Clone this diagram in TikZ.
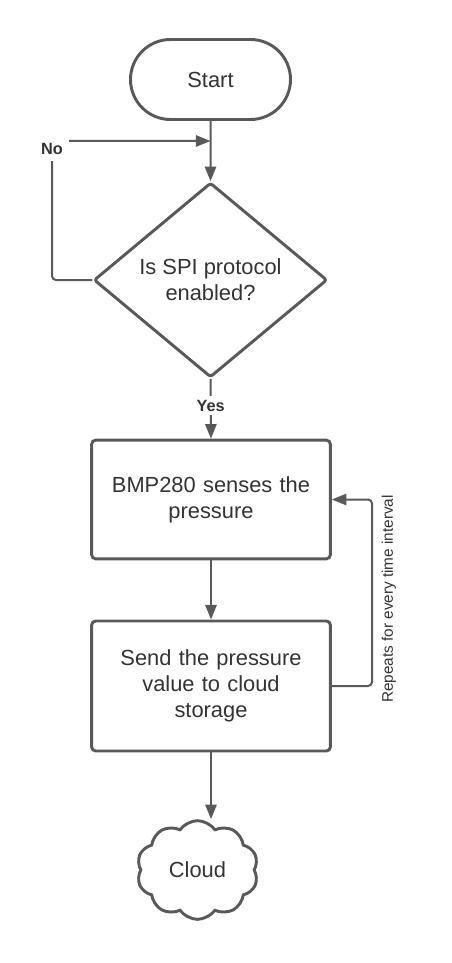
\documentclass[tikz,border=0pt]{standalone}
\usepackage{fontspec}
\setmainfont{Liberation Sans}
\usetikzlibrary{arrows.meta,shapes.geometric,shapes.misc,shapes.symbols}

\definecolor{lineGray}{RGB}{89,89,89}
\definecolor{textGray}{RGB}{51,51,51}

\tikzset{every picture/.style={line width=0.75pt}}

\begin{document}
\begin{tikzpicture}[x=0.75pt,y=0.75pt,yscale=-1,
	shapebox/.style={draw=lineGray,line width=2.2pt,text=textGray,align=center,inner sep=0pt,
		font=\fontsize{16.4}{19.5}\selectfont},
	terminal/.style={shapebox,rounded rectangle,minimum width=120pt,minimum height=60pt},
	decision/.style={shapebox,diamond,minimum width=175pt,minimum height=146pt,rounded corners=2pt},
	process/.style={shapebox,rectangle,rounded corners=3pt,minimum width=179pt,text width=160pt},
	store/.style={shapebox,cloud,cloud puffs=10,cloud puff arc=110,aspect=1.25,minimum width=91pt,minimum height=74pt},
	flow/.style={draw=lineGray,line width=1.5pt,-{Triangle[length=11pt,width=8.5pt]}},
	lbl/.style={fill=white,text=textGray,inner sep=3pt,font=\fontsize{12.2}{14}\selectfont\bfseries}]
	%set diagram to the size of the reference
	\useasboundingbox (0,0) rectangle (451,963);
	
	%Terminator
	\node [terminal] (start) at (210.5,79.5) {Start};
	%Decision
	\node [decision] (dec) at (210.5,280) {Is SPI protocol\\enabled?};
	%Process
	\node [process,minimum height=89pt] (sense) at (211,499.5) {BMP280 senses the\\pressure\\[3pt]};
	%Process
	\node [process,minimum height=97.5pt] (send) at (211,686) {Send the pressure\\value to cloud\\storage\\[2pt]};
	%Cloud
	\node [store] (cloud) at (197.5,870) {Cloud};
	
	\coordinate (nocorner) at (52,141);
	\coordinate (nojoin) at (210.5,141);
	\coordinate (loopc) at (372,600);
	
	%Straight Lines
	\draw [flow] (start) -- (dec);
	\draw [flow,rounded corners=3pt] (dec.west) -| (nocorner) -- (nojoin);
	\draw [flow] (dec.south) -- node [lbl,pos=0.45] (yes) {Yes} (sense.north);
	\draw [flow] (sense) -- (send);
	\draw [flow,rounded corners=3pt] (send.east) -| (loopc) |- (sense.east);
	\draw [flow] (send.south) -- (send.south |- cloud.north);
	
	% Text Node
	\node [lbl,inner sep=4.5pt] (no) at (52,149) {No};
	% Text Node
	\node [text=textGray,rotate=90,font=\fontsize{11.5}{13}\selectfont] (repeat) at (389,599) {Repeats for every time interval};
	
\end{tikzpicture}
\end{document}
